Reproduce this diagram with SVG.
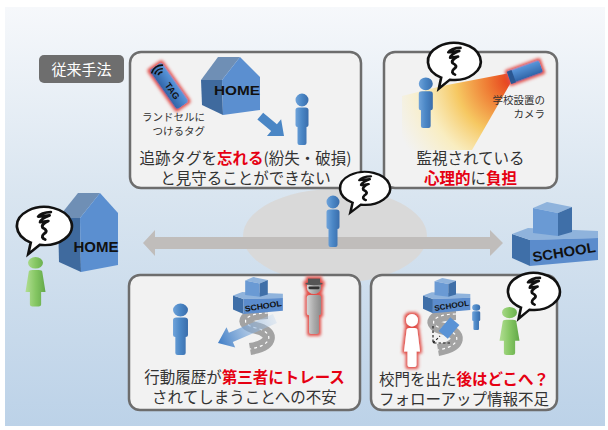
<svg xmlns="http://www.w3.org/2000/svg" width="608" height="430" viewBox="0 0 608 430">
<style>
.box{fill:#f2f2f2;stroke:#6d6d6d;stroke-width:2.5}
.t{font-family:"Noto Sans CJK JP","Noto Sans",sans-serif;font-size:15.5px;fill:#333;text-anchor:middle}
.r{fill:#e60012;font-weight:bold}
.s{font-family:"Noto Sans CJK JP","Noto Sans",sans-serif;font-size:10.5px;fill:#333;text-anchor:end}
.lbl{font-family:"Liberation Sans","DejaVu Sans",sans-serif;font-weight:bold;fill:#111}
.bub{fill:#fff;stroke:#111;stroke-width:2.2}
.sq{fill:none;stroke:#111;stroke-width:2.4;stroke-linecap:round;stroke-linejoin:round}
.roof{fill:#6f8fb5}
.wallL{fill:#3f6a9e}
.wallF{fill:#5b8fd0}
</style>
<defs>
  <linearGradient id="bg" x1="0" y1="0" x2="0" y2="1">
    <stop offset="0" stop-color="#f6f8fb"/>
    <stop offset="0.45" stop-color="#d9e5f0"/>
    <stop offset="1" stop-color="#bcd2e8"/>
  </linearGradient>
  <linearGradient id="gBlue" x1="0" y1="0" x2="1" y2="0">
    <stop offset="0" stop-color="#6fa3da"/>
    <stop offset="0.5" stop-color="#4a86c5"/>
    <stop offset="1" stop-color="#3a6dab"/>
  </linearGradient>
  <linearGradient id="gGreen" x1="0" y1="0" x2="1" y2="0">
    <stop offset="0" stop-color="#b2de93"/>
    <stop offset="0.5" stop-color="#86c764"/>
    <stop offset="1" stop-color="#62a848"/>
  </linearGradient>
  <linearGradient id="gGray" x1="0" y1="0" x2="1" y2="0">
    <stop offset="0" stop-color="#d4d4d4"/>
    <stop offset="0.5" stop-color="#ababab"/>
    <stop offset="1" stop-color="#8a8a8a"/>
  </linearGradient>
  <linearGradient id="gDev" x1="0" y1="0" x2="0" y2="1">
    <stop offset="0" stop-color="#5a98dc"/>
    <stop offset="1" stop-color="#2f63a6"/>
  </linearGradient>
  <radialGradient id="gCone" gradientUnits="userSpaceOnUse" cx="512" cy="80" r="125">
    <stop offset="0" stop-color="#e5381a"/>
    <stop offset="0.2" stop-color="#ef7c34"/>
    <stop offset="0.45" stop-color="#f6c862"/>
    <stop offset="0.7" stop-color="#faecb8" stop-opacity="0.85"/>
    <stop offset="1" stop-color="#fbf0c4" stop-opacity="0"/>
  </radialGradient>
  <linearGradient id="gFade" gradientUnits="userSpaceOnUse" x1="-62" y1="0" x2="0" y2="0">
    <stop offset="0" stop-color="#b9d2ec" stop-opacity="0.3"/>
    <stop offset="1" stop-color="#3d7cc6"/>
  </linearGradient>
  <filter id="glow" x="-60%" y="-60%" width="220%" height="220%">
    <feMorphology in="SourceAlpha" operator="dilate" radius="1.8" result="d"/>
    <feGaussianBlur in="d" stdDeviation="1.6" result="b"/>
    <feFlood flood-color="#e2504a"/>
    <feComposite in2="b" operator="in" result="g"/>
    <feMerge><feMergeNode in="g"/><feMergeNode in="SourceGraphic"/></feMerge>
  </filter>
  <!-- standing figure, 20 x 52 -->
  <path id="fig" d="M3.5,7 A6.5,6.5 0 1 0 16.5,7 A6.5,6.5 0 1 0 3.5,7 Z M3.5,17 Q3.5,14.5 6.5,14.5 H13.5 Q16.5,14.5 16.5,17 V32 Q16.5,34 14.5,34 V50 Q14.5,52 12.5,52 H7.5 Q5.5,52 5.5,50 V34 Q3.5,34 3.5,32 Z"/>
  <!-- figure with skirt, 20 x 52 -->
  <path id="figF" d="M4,7 A6,6 0 1 0 16,7 A6,6 0 1 0 4,7 Z M4.5,17 Q4.5,14.5 7.5,14.5 H12.5 Q15.5,14.5 15.5,17 L18,37 H14.5 V50 Q14.5,52 12.5,52 H7.5 Q5.5,52 5.5,50 V37 H2 Z"/>
  <!-- speech bubble with worry scribble -->
  <g id="bubble">
    <path class="bub" d="M22.2,35.7 A22,17 0 1 0 15,33.7 L13,44 Z"/>
    <path class="sq" d="M31,6.5 C26,6.5 22,8.5 21,10.5 L30,9.5 C25.5,11.5 22.5,13.5 22.5,15.5 L29,14.5 C25,16.5 23.5,18.5 24.5,20.5 C27.5,22 28.5,24 25.5,26 C23.5,28 24,30 26.5,31"/>
  </g>
  <!-- stepped school building, 86 x 64 -->
  <g id="schoolBldg">
    <polygon points="0,32 18,38 18,64 0,56" fill="#3f6fa8"/>
    <polygon points="0,32 16,26 86,29 86,36 18,38" fill="#8fb3dc"/>
    <polygon points="18,38 86,36 86,58 18,64" fill="#5b8ccc"/>
    <polygon points="21,6 35,0 60,5 46,11" fill="#8fb3dc"/>
    <polygon points="21,6 46,11 46,34 21,31" fill="#6a9ad4"/>
    <polygon points="46,11 60,5 60,30 46,34" fill="#3f6fa8"/>
    <text class="lbl" x="52" y="55" font-size="14" text-anchor="middle" textLength="64" lengthAdjust="spacingAndGlyphs" transform="rotate(-9 52 50)">SCHOOL</text>
  </g>
  <!-- S-shaped road -->
  <g id="road">
    <path d="M268,313 C244,313 238,324 256,328 C274,332 274,345 250,349" fill="none" stroke="#a3a3a3" stroke-width="12"/>
    <path d="M268,313 C244,313 238,324 256,328 C274,332 274,345 250,349" fill="none" stroke="#fff" stroke-width="1.2" stroke-dasharray="3 3"/>
  </g>
</defs>

<!-- backdrop -->
<rect x="5" y="7" width="600" height="419" fill="url(#bg)"/>
<ellipse cx="335" cy="236" rx="92" ry="47" fill="#d9d9d9"/>

<!-- home <-> school commute -->
<g id="connectors">
  <polygon points="143,243 155,230 155,237 490,237 490,230 503,243 490,256 490,249 155,249 155,256" fill="#c0bdbb"/>
</g>

<g id="label-conventional">
  <rect x="39" y="55" width="85" height="28" rx="5" fill="#6e6e6e"/>
  <text x="81.5" y="74.5" font-family="Noto Sans CJK JP, Noto Sans, sans-serif" font-size="15" fill="#fff" text-anchor="middle">従来手法</text>
</g>

<!-- home and school -->
<g id="home">
  <polygon class="roof" points="58,218 78,193 100,193 80,218"/>
  <polygon class="wallL" points="58,218 80,218 81,272 59,262"/>
  <polygon class="wallF" points="80,218 100,193 118,213 118,265 81,272"/>
  <text class="lbl" x="96" y="252" font-size="14" text-anchor="middle" textLength="45" lengthAdjust="spacingAndGlyphs">HOME</text>
</g>
<g id="school">
  <use href="#schoolBldg" transform="translate(512,202)"/>
</g>

<g id="guardian">
  <use href="#figF" fill="url(#gGreen)" transform="translate(23,256) scale(1.25,0.97)"/>
  <use href="#bubble" transform="translate(12,204.8) scale(1.25,1.12)"/>
</g>

<!-- box 1: tracking tag -->
<g id="box-tag">
  <rect class="box" x="130" y="52" width="231" height="136" rx="11"/>
  <g transform="translate(169,86) rotate(55)">
    <rect x="-24" y="-7.5" width="48" height="15" rx="3" fill="url(#gDev)" filter="url(#glow)"/>
    <g fill="none" stroke="#111" stroke-width="1.6">
      <path d="M-15.1,2.6 A4,4 0 0 1 -15.1,-2.6"/>
      <path d="M-17.7,4.8 A7.5,7.5 0 0 1 -17.7,-4.8"/>
      <path d="M-20.4,7.1 A11,11 0 0 1 -20.4,-7.1"/>
    </g>
    <text class="lbl" x="6" y="3.2" font-size="9" text-anchor="middle">TAG</text>
  </g>
  <polygon class="roof" points="201,80 218,57 240,57 222,80"/>
  <polygon class="wallL" points="201,80 222,80 223,115 202,105"/>
  <polygon class="wallF" points="222,80 240,57 260,77 260,110 223,115"/>
  <text class="lbl" x="237" y="95" font-size="13.5" text-anchor="middle" textLength="46" lengthAdjust="spacingAndGlyphs">HOME</text>
  <text class="s" x="205" y="121">ランドセルに</text>
  <text class="s" x="205" y="135">つけるタグ</text>
  <polygon points="-31,-4.5 -13,-4.5 -13,-11 0,0 -13,11 -13,4.5 -31,4.5" fill="#4a86c5" transform="translate(284,136) rotate(40)"/>
  <use href="#fig" fill="url(#gBlue)" transform="translate(292,93)"/>
  <text class="t" x="245.5" y="164">追跡タグを<tspan class="r">忘れる</tspan>(紛失・破損)</text>
  <text class="t" x="245.5" y="184">と見守ることができない</text>
</g>

<!-- box 2: school camera -->
<g id="box-camera">
  <rect class="box" x="384" y="52" width="173" height="136" rx="11"/>
  <polygon points="510,73 442,86 402,96 402,150 472,150 510,84" fill="url(#gCone)"/>
  <use href="#fig" fill="url(#gBlue)" transform="translate(415,77) scale(1.08,0.98)"/>
  <g transform="translate(525,72) rotate(-20)">
    <rect x="-17" y="-6.5" width="34" height="13" rx="2" fill="url(#gDev)" filter="url(#glow)"/>
    <rect x="-17" y="-6.5" width="5" height="13" fill="#2a5792"/>
  </g>
  <text class="s" x="545" y="104">学校設置の</text>
  <text class="s" x="545" y="118">カメラ</text>
  <use href="#bubble" transform="translate(423.2,40.8) scale(1.2,1.09)"/>
  <text class="t" x="470.5" y="164">監視されている</text>
  <text class="t" x="470.5" y="184"><tspan class="r">心理的</tspan>に<tspan class="r">負担</tspan></text>
</g>

<!-- box 3: history traced by third party -->
<g id="box-trace">
  <rect class="box" x="129" y="275" width="231" height="135" rx="11"/>
  <use href="#road"/>
  <use href="#schoolBldg" transform="translate(233,277) scale(0.58)"/>
  <polygon points="-62,-5 -14,-5 -14,-11 0,0 -14,11 -14,5 -62,5" fill="url(#gFade)" transform="translate(218,343) rotate(156.7)"/>
  <use href="#fig" fill="url(#gBlue)" transform="translate(169,303) scale(1.15,1)"/>
  <g transform="translate(303,280) scale(1.1,1.04)" filter="url(#glow)">
    <use href="#fig" fill="url(#gGray)"/>
    <rect x="4.5" y="-1.5" width="11" height="5" fill="#555"/>
    <ellipse cx="10" cy="3.5" rx="8" ry="1.6" fill="#555"/>
    <rect x="5" y="6.2" width="10" height="2.6" rx="1" fill="#333"/>
  </g>
  <text class="t" x="244.5" y="383">行動履歴が<tspan class="r">第三者にトレース</tspan></text>
  <text class="t" x="244.5" y="403">されてしまうことへの不安</text>
</g>

<!-- box 4: after leaving the school gate -->
<g id="box-followup">
  <rect class="box" x="371" y="275" width="186" height="135" rx="11"/>
  <use href="#road" transform="translate(188,1)"/>
  <use href="#schoolBldg" transform="translate(423,278) scale(0.55)"/>
  <use href="#fig" fill="url(#gBlue)" transform="translate(470,304) scale(0.62,0.5)"/>
  <rect x="-9" y="-6" width="18" height="12" fill="#5a93d6" transform="translate(449,328) rotate(-50)"/>
  <path d="M433,326 V343 H450 M433,343 L440,336" fill="none" stroke="#222" stroke-width="1.2" stroke-dasharray="2.5 2"/>
  <use href="#figF" fill="#fff" filter="url(#glow)" transform="translate(402,313) scale(1,1.04)"/>
  <use href="#figF" fill="url(#gGreen)" transform="translate(497,306) scale(1.25,0.94)"/>
  <use href="#bubble" transform="translate(503.3,270.8) scale(1.18,1.09)"/>
  <text class="t" x="464" y="385">校門を出た<tspan class="r">後はどこへ？</tspan></text>
  <text class="t" x="464" y="405">フォローアップ情報不足</text>
</g>

<!-- child on the way -->
<g id="child">
  <use href="#fig" fill="url(#gBlue)" transform="translate(323,195)"/>
  <use href="#bubble" transform="translate(335.5,170) scale(1.14,0.97)"/>
</g>
</svg>
